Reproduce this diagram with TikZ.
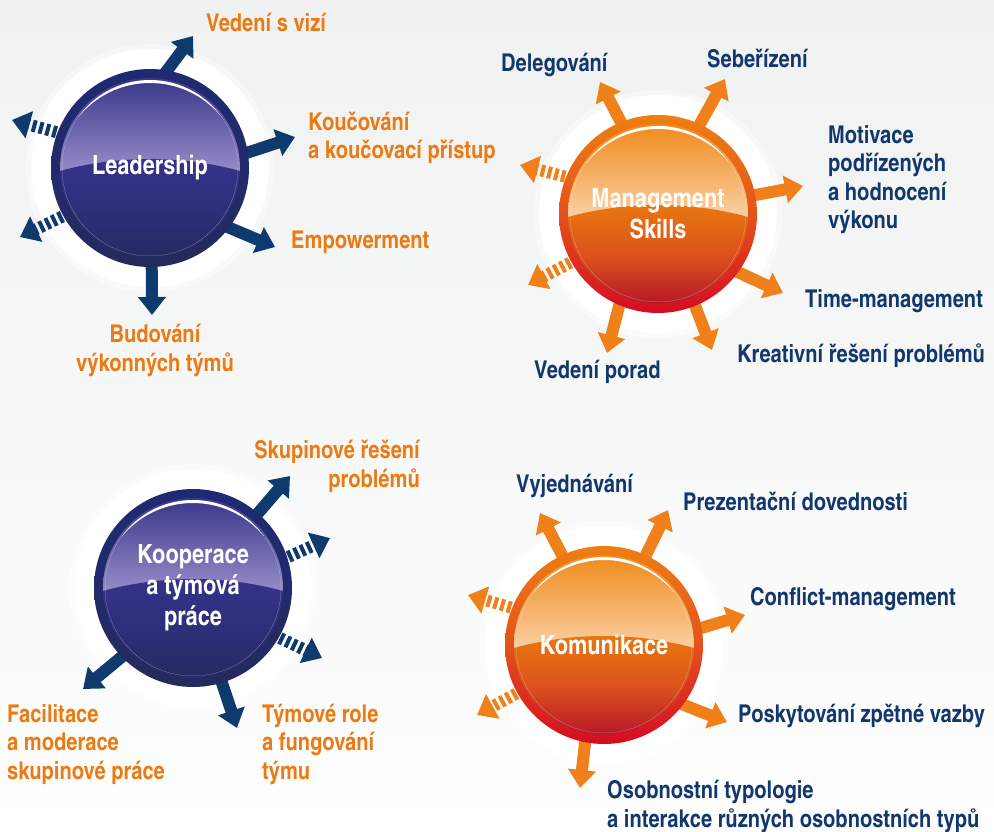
\documentclass[tikz,border=0pt]{standalone}
\usepackage{fontspec}
\newfontfamily\lblfont{texgyreheroscn-bold}[Extension=.otf]
\usetikzlibrary{arrows.meta}
\pgfdeclarelayer{back}
\pgfdeclarelayer{mid}
\pgfdeclarelayer{balls}
\pgfsetlayers{back,mid,balls,main}
\definecolor{txtorange}{HTML}{EB7A12}
\definecolor{txtblue}{HTML}{12376E}
\definecolor{arrblue}{HTML}{0E3A6E}
\definecolor{arrorange}{HTML}{EF801A}
\definecolor{bgtop}{HTML}{F0F1F1}
\definecolor{bgbot}{HTML}{FEFEFE}
\definecolor{bRingTop}{HTML}{1F2A72}
\definecolor{bRingMid}{HTML}{222A6A}
\definecolor{bRingBot}{HTML}{252A5C}
\definecolor{bFaceTop}{HTML}{38368A}
\definecolor{bFaceHor}{HTML}{968DC8}
\definecolor{bLowTop}{HTML}{35338A}
\definecolor{bLowMid}{HTML}{2E2E7A}
\definecolor{bLowBot}{HTML}{262A62}
\definecolor{oRingTop}{HTML}{EE7E12}
\definecolor{oRingMid}{HTML}{E4521C}
\definecolor{oRingBot}{HTML}{D40C22}
\definecolor{oFaceTop}{HTML}{F08A1C}
\definecolor{oFaceHor}{HTML}{FAD0A4}
\definecolor{oLowTop}{HTML}{E8780F}
\definecolor{oLowMid}{HTML}{DC521C}
\definecolor{oLowBot}{HTML}{B6162A}

% #1 node name, #2-#4 ring, #5-#6 upper face, #7-#9 lower face
\newcommand\drawball[9]{%
  \begin{scope}[shift={(#1.center)}]
    \shade[top color=#2, bottom color=#4, middle color=#3] (0pt,0pt) circle[radius=99pt];
    \begin{scope}
      \clip (0pt,0pt) circle[radius=90pt];
      \shade[top color=#5, bottom color=#6] (-91pt,91pt) rectangle (91pt,-4pt);
      \begin{scope}
        \clip (0pt,-334pt) circle[radius=343pt];
        \shade[top color=#7, bottom color=#9, middle color=#8] (-91pt,10pt) rectangle (91pt,-91pt);
      \end{scope}
      \clip (0pt,0pt) circle[radius=88pt];
      \fill[white, even odd rule] (0pt,0pt) circle[radius=88pt] (0pt,-7.5pt) circle[radius=92.5pt];
    \end{scope}
  \end{scope}}

\tikzset{
  ball/.style={circle, inner sep=0pt, minimum size=198pt, text=white, align=center,
    font=\lblfont\fontsize{26.5}{31}\selectfont},
  arr/.style={line width=12pt, -{Triangle[length=18pt,width=27pt]}},
  solidarr/.style={arr, shorten <=-12pt},
  dasharr/.style={arr, dash pattern=on 4pt off 3pt, shorten <=1pt},
  barr/.style={solidarr, draw=arrblue},
  oarr/.style={solidarr, draw=arrorange},
  bdash/.style={dasharr, draw=arrblue},
  odash/.style={dasharr, draw=arrorange},
  lbl/.style={inner sep=0pt, font=\lblfont\fontsize{24.5}{28.5}\selectfont},
  olbl/.style={lbl, text=txtorange},
  blbl/.style={lbl, text=txtblue},
}

\begin{document}
\begin{tikzpicture}[x=1pt,y=-1pt]
\useasboundingbox (0,0) rectangle (994,832);
% balls (text nodes)
\node[ball] (L) at (150,168) {Leadership};
\node[ball] (M) at (658,214) {Management\\Skills};
\node[ball] (K) at (193,588) {Kooperace\\a týmová\\práce};
\node[ball] (C) at (604,645) {Komunikace};

\begin{pgfonlayer}{back}
  \shade[top color=bgtop, bottom color=bgbot] (0,0) rectangle (994,832);
  \foreach \b in {L,M,K,C}{
    \fill[white,opacity=0.45] (\b.center) circle[radius=124pt];
    \fill[white] (\b.center) circle[radius=119pt];
  }
\end{pgfonlayer}

\begin{pgfonlayer}{balls}
  \drawball{L}{bRingTop}{bRingMid}{bRingBot}{bFaceTop}{bFaceHor}{bLowTop}{bLowMid}{bLowBot}
  \drawball{K}{bRingTop}{bRingMid}{bRingBot}{bFaceTop}{bFaceHor}{bLowTop}{bLowMid}{bLowBot}
  \drawball{M}{oRingTop}{oRingMid}{oRingBot}{oFaceTop}{oFaceHor}{oLowTop}{oLowMid}{oLowBot}
  \drawball{C}{oRingTop}{oRingMid}{oRingBot}{oFaceTop}{oFaceHor}{oLowTop}{oLowMid}{oLowBot}
\end{pgfonlayer}

\begin{pgfonlayer}{mid}
  % Leadership
  \coordinate (tL1) at (193,36);
  \coordinate (tL2) at (295,137);
  \coordinate (tL3) at (275,247);
  \coordinate (tL4) at (152,315);
  \coordinate (tL5) at (12,120);
  \coordinate (tL6) at (20,237);
  \draw[barr] (L.80) -- (tL1);
  \draw[barr] (L.9.4) -- (tL2);
  \draw[barr] (L.323.6) -- (tL3);
  \draw[barr] (L.271) -- (tL4);
  \draw[bdash] (L.159.6) -- (tL5);
  \draw[bdash] (L.209.4) -- (tL6);
  % Management
  \coordinate (tM1) at (600,82);
  \coordinate (tM2) at (725,79);
  \coordinate (tM3) at (803,186);
  \coordinate (tM4) at (783,293);
  \coordinate (tM5) at (712,350);
  \coordinate (tM6) at (607,353);
  \coordinate (tM7) at (520,165);
  \coordinate (tM8) at (528,285);
  \draw[oarr] (M.112) -- (tM1);
  \draw[oarr] (M.65.5) -- (tM2);
  \draw[oarr] (M.11) -- (tM3);
  \draw[oarr] (M.324.7) -- (tM4);
  \draw[oarr] (M.292.8) -- (tM5);
  \draw[oarr] (M.247.8) -- (tM6);
  \draw[odash] (M.158.9) -- (tM7);
  \draw[odash] (M.209.1) -- (tM8);
  % Kooperace
  \coordinate (tK1) at (290,476);
  \coordinate (tK2) at (330,538);
  \coordinate (tK3) at (322,658);
  \coordinate (tK4) at (83,689);
  \coordinate (tK5) at (237,728);
  \draw[barr] (K.49) -- (tK1);
  \draw[bdash] (K.18.3) -- (tK2);
  \draw[bdash] (K.330.1) -- (tK3);
  \draw[barr] (K.224.6) -- (tK4);
  \draw[barr] (K.287) -- (tK5);
  % Komunikace
  \coordinate (tC1) at (540,513);
  \coordinate (tC2) at (668,510);
  \coordinate (tC3) at (745,615);
  \coordinate (tC4) at (727,722);
  \coordinate (tC5) at (580,788);
  \coordinate (tC6) at (468,595);
  \coordinate (tC7) at (477,715);
  \draw[oarr] (C.115.5) -- (tC1);
  \draw[oarr] (C.65.5) -- (tC2);
  \draw[oarr] (C.10.8) -- (tC3);
  \draw[oarr] (C.323.7) -- (tC4);
  \draw[oarr] (C.259) -- (tC5);
  \draw[odash] (C.158) -- (tC6);
  \draw[odash] (C.209.2) -- (tC7);
\end{pgfonlayer}

% Leadership labels
\node[olbl, anchor=base west] (lv) at (206,32) {Vedení s vizí};
\node[olbl, anchor=base west, align=left] (lk) at (308,159) {Koučování\\a koučovací přístup};
\node[olbl, anchor=base west] (le) at (291,248) {Empowerment};
\node[olbl, anchor=base, align=center] (lb) at (155,371) {Budování\\výkonných týmů};
% Management labels
\node[blbl, anchor=base west] (md) at (501,72) {Delegování};
\node[blbl, anchor=base west] (ms) at (707,68) {Sebeřízení};
\node[blbl, anchor=base west, align=left] (mm) at (828,229) {Motivace\\podřízených\\a hodnocení\\výkonu};
\node[blbl, anchor=base west] (mt) at (805,307) {Time-management};
\node[blbl, anchor=base west] (mk) at (737,362) {Kreativní řešení problémů};
\node[blbl, anchor=base west] (mv) at (534,378) {Vedení porad};
% Kooperace labels
\node[olbl, anchor=base east, align=right] (ks) at (420,487) {Skupinové řešení\\problémů};
\node[olbl, anchor=base west, align=left] (kf) at (7,779) {Facilitace\\a moderace\\skupinové práce};
\node[olbl, anchor=base west, align=left] (kt) at (262,779) {Týmové role\\a fungování\\týmu};
% Komunikace labels
\node[blbl, anchor=base west] (cv) at (516,492) {Vyjednávání};
\node[blbl, anchor=base west] (cp) at (683,510) {Prezentační dovednosti};
\node[blbl, anchor=base west] (cc) at (750,605) {Conflict-management};
\node[blbl, anchor=base west] (cz) at (738,722) {Poskytování zpětné vazby};
\node[blbl, anchor=base west, align=left] (co) at (607,827) {Osobnostní typologie\\a interakce různých osobnostních typů};
\end{tikzpicture}
\end{document}
